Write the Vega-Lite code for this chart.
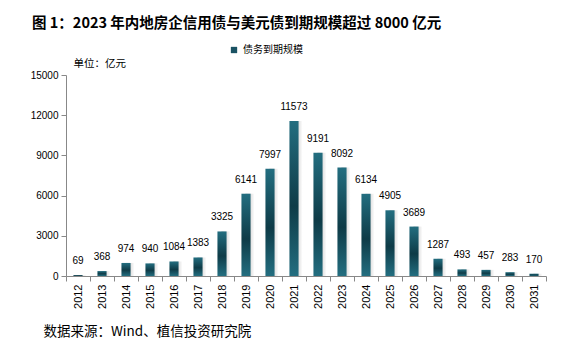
{
  "$schema": "https://vega.github.io/schema/vega-lite/v6.json",
  "autosize": {"type": "none"},
  "width": 480,
  "height": 201,
  "padding": {"left": 66, "top": 75, "right": 16, "bottom": 66},
  "background": "white",
  "title": {
    "text": "图 1：2023 年内地房企信用债与美元债到期规模超过 8000 亿元",
    "anchor": "start",
    "frame": "group",
    "dx": -34,
    "offset": 14,
    "font": "Noto Sans CJK SC",
    "fontSize": 14.5,
    "fontWeight": "bold",
    "color": "#000000"
  },
  "config": {
    "view": {"stroke": null},
    "font": "Liberation Sans"
  },
  "data": {
    "values": [
      {"year": "2012", "v": 69},
      {"year": "2013", "v": 368},
      {"year": "2014", "v": 974},
      {"year": "2015", "v": 940},
      {"year": "2016", "v": 1084},
      {"year": "2017", "v": 1383},
      {"year": "2018", "v": 3325},
      {"year": "2019", "v": 6141},
      {"year": "2020", "v": 7997},
      {"year": "2021", "v": 11573},
      {"year": "2022", "v": 9191},
      {"year": "2023", "v": 8092},
      {"year": "2024", "v": 6134},
      {"year": "2025", "v": 4905},
      {"year": "2026", "v": 3689},
      {"year": "2027", "v": 1287},
      {"year": "2028", "v": 493},
      {"year": "2029", "v": 457},
      {"year": "2030", "v": 283},
      {"year": "2031", "v": 170}
    ]
  },
  "encoding": {
    "x": {
      "field": "year",
      "type": "ordinal",
      "scale": {"paddingInner": 0, "paddingOuter": 0},
      "axis": {
        "title": "数据来源：Wind、植信投资研究院",
        "titleFont": "Noto Sans CJK SC",
        "titleFontSize": 13.5,
        "titleFontWeight": "normal",
        "titleColor": "#000000",
        "titleX": -23,
        "titleY": 55,
        "titleAlign": "left",
        "titleBaseline": "middle",
        "tickBand": "extent",
        "labelAngle": 270,
        "labelAlign": "right",
        "labelBaseline": "middle",
        "labelFontSize": 11,
        "labelColor": "#000000",
        "labelPadding": 3,
        "domainColor": "#888888",
        "tickColor": "#888888",
        "tickSize": 5
      }
    },
    "y": {
      "field": "v",
      "type": "quantitative",
      "scale": {"domain": [0, 15000]},
      "axis": {
        "title": "单位：亿元",
        "titleFont": "Noto Sans CJK SC",
        "titleFontSize": 10.5,
        "titleFontWeight": "normal",
        "titleColor": "#000000",
        "titleAngle": 0,
        "titleX": 7,
        "titleY": -12,
        "titleAlign": "left",
        "titleBaseline": "middle",
        "values": [0, 3000, 6000, 9000, 12000, 15000],
        "format": "d",
        "grid": false,
        "labelFontSize": 10,
        "labelColor": "#000000",
        "labelPadding": 3,
        "domainColor": "#888888",
        "tickColor": "#888888",
        "tickSize": 5
      }
    }
  },
  "layer": [
    {
      "mark": {
        "type": "bar",
        "width": {"band": 0.38},
        "xOffset": 4,
        "opacity": 0.7,
        "color": {
          "gradient": "linear",
          "x1": 0, "y1": 0, "x2": 1, "y2": 0,
          "stops": [
            {"offset": 0, "color": "#9a9a9a"},
            {"offset": 1, "color": "#ffffff"}
          ]
        }
      }
    },
    {
      "mark": {
        "type": "bar",
        "width": {"band": 0.38},
        "color": {
          "gradient": "linear",
          "x1": 0, "y1": 0, "x2": 0, "y2": 1,
          "stops": [
            {"offset": 0, "color": "#236e80"},
            {"offset": 0.55, "color": "#0e3b47"},
            {"offset": 1, "color": "#236e80"}
          ]
        }
      }
    },
    {
      "mark": {"type": "text", "dy": -9, "fontSize": 10, "color": "#000000", "baseline": "bottom"},
      "encoding": {"text": {"field": "v", "type": "quantitative", "format": "d"}}
    },
    {
      "mark": {"type": "bar", "width": {"band": 0.38}},
      "encoding": {
        "y": {"datum": 0},
        "color": {
          "datum": "债务到期规模",
          "scale": {"range": ["#1a5363"]},
          "legend": {
            "title": null,
            "orient": "none",
            "legendX": 163,
            "legendY": -30,
            "symbolType": "square",
            "symbolSize": 40,
            "labelFont": "Noto Sans CJK SC",
            "labelFontSize": 10,
            "labelColor": "#000000"
          }
        }
      }
    }
  ]
}
